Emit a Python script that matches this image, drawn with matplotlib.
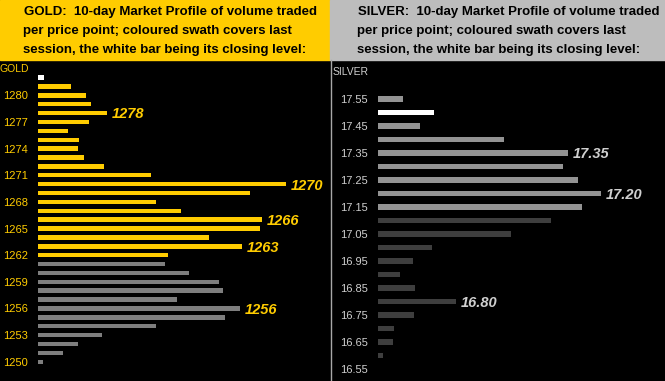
import matplotlib as mpl
mpl.use("Agg")
import matplotlib.pyplot as plt
from matplotlib.patches import Rectangle
from matplotlib.lines import Line2D

W, H = 665, 381
GOLD_C, WHITE, GREY_OLD = "#FFCC00", "#FFFFFF", "#7E7E7E"
SIL_LAST, SIL_OLD, SIL_TXT = "#939393", "#3E3E3E", "#CFCFCF"
HDR_GREY = "#BDBDBD"

# ---- gold: price levels, volume (relative), session swath
gold_levels = list(range(1282, 1249, -1))
gold_vol = [6, 33, 48, 53, 69, 51, 30, 41, 40, 46, 66, 113, 248, 212, 118, 143,
            224, 222, 171, 204, 130, 127, 151, 181, 185, 139, 202, 187, 118,
            64, 40, 25, 5]
gold_swath = ["close"] + ["last"] * 20 + ["prior"] * 12
gold_ticks = list(range(1280, 1249, -3))
gold_marks = [1278, 1270, 1266, 1263, 1256]

# ---- silver
silver_levels = [17.55, 17.50, 17.45, 17.40, 17.35, 17.30, 17.25, 17.20, 17.15,
                 17.10, 17.05, 17.00, 16.95, 16.90, 16.85, 16.80, 16.75, 16.70,
                 16.65, 16.60]
silver_vol = [25, 56, 42, 126, 190, 185, 200, 223, 204, 173, 133, 54, 35, 22,
              37, 78, 36, 16, 15, 5]
silver_swath = ["last", "close"] + ["last"] * 7 + ["prior"] * 11
silver_ticks = [17.55, 17.45, 17.35, 17.25, 17.15, 17.05, 16.95, 16.85, 16.75,
                16.65, 16.55]
silver_marks = [17.35, 17.20, 16.80]

FONT = "Liberation Sans"
plt.rcParams["font.family"] = FONT

fig = plt.figure(figsize=(W / 100, H / 100), dpi=100, facecolor="black")


def fx(x):
    return x / W


def fy(y):
    return 1 - y / H


def header(x0, x1, color, title, indent):
    fig.patches.append(Rectangle((fx(x0), fy(60)), fx(x1 - x0), 60 / H,
                                 transform=fig.transFigure, color=color, zorder=0))
    lines = [title + ":  10-day Market Profile of volume traded",
             "per price point; coloured swath covers last",
             "session, the white bar being its closing level:"]
    for i, (t, base) in enumerate(zip(lines, [15, 34, 53])):
        fig.text(fx(x0 + indent + (1 if i == 0 else 0)), fy(base), t,
                 fontsize=9.5, fontweight="bold", color="black",
                 va="baseline", ha="left")


def panel(left, levels, vols, swath, colors, ticks, tick_fmt, tcol, marks,
          mark_fmt, mcol, msize, ylim, height, right):
    ax = fig.add_axes([fx(left), fy(H), fx(right - left), 1 - 60 / H])
    ax.set_facecolor("black")
    cols = [colors[s] for s in swath]
    ax.barh(levels, vols, height=height, color=cols, linewidth=0)
    for lv, v in zip(levels, vols):
        if any(abs(lv - m) < 1e-6 for m in marks):
            ax.annotate(mark_fmt.format(lv), (v, lv), xytext=(3.5, -1),
                        textcoords="offset points", ha="left", va="center",
                        fontsize=msize, fontweight="bold", style="italic",
                        color=mcol)
    ax.set_xlim(0, right - left)
    ax.set_ylim(*ylim)
    ax.set_xticks([])
    ax.set_yticks(ticks)
    ax.set_yticklabels([tick_fmt.format(t) for t in ticks])
    ax.tick_params(axis="y", length=0, pad=7.2, labelsize=8, labelcolor=tcol)
    for s in ax.spines.values():
        s.set_visible(False)
    return ax


header(0, 330, GOLD_C, "GOLD", 23)
header(330, W, HDR_GREY, "SILVER", 27)

panel(38, gold_levels, gold_vol, gold_swath,
      {"close": WHITE, "last": GOLD_C, "prior": GREY_OLD},
      gold_ticks, "{:d}", GOLD_C, gold_marks, "{:d}", GOLD_C, 10.5,
      (1247.83, 1283.98), 0.5, 330)
panel(378, silver_levels, silver_vol, silver_swath,
      {"close": WHITE, "last": SIL_LAST, "prior": SIL_OLD},
      silver_ticks, "{:.2f}", SIL_TXT, silver_marks, "{:.2f}", SIL_TXT, 10.5,
      (16.5056, 17.6944), 0.02, W)

fig.text(fx(0), fy(69), "GOLD", fontsize=7.5, color=GOLD_C, va="center", ha="left")
fig.text(fx(333), fy(72), "SILVER", fontsize=7.5, color=SIL_TXT, va="center", ha="left")

fig.lines.append(Line2D([fx(330.5), fx(330.5)], [fy(60), fy(H)],
                        transform=fig.transFigure, color="#A8A8A8", lw=1))

fig.savefig("out.png", dpi=100, facecolor="black")
